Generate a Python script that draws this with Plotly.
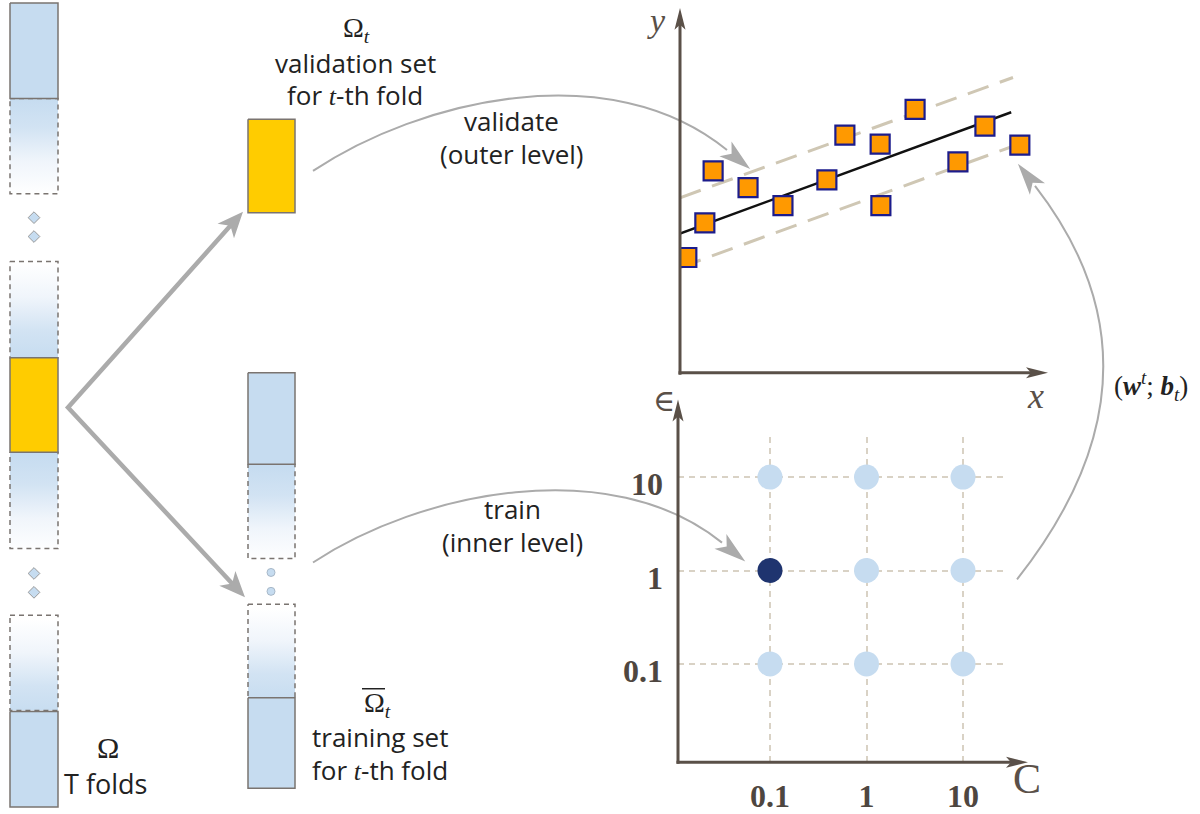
import math
import plotly.graph_objects as go

W, H = 1200, 814

# ---------------- data ----------------
# regression panel, axis units 0-10
pts_x = [0.19, 0.69, 0.92, 1.89, 2.86, 4.08, 4.58, 5.56, 5.58, 6.53, 7.72, 8.47, 9.44]
pts_y = [3.22, 4.19, 5.64, 5.17, 4.67, 5.39, 6.64, 6.39, 4.67, 7.36, 5.89, 6.89, 6.36]
fit_x = [0.0, 9.2]
fit_y = [3.89, 7.28]
tube_x = [0.0, 9.25]
tube_upper = [4.89, 8.25]
tube_lower = [2.94, 6.33]

# hyper-parameter grid (C, epsilon)
grid_C = [0.1, 1, 10, 1, 10, 0.1, 1, 10]
grid_eps = [10, 10, 10, 1, 1, 0.1, 0.1, 0.1]
best_C = [0.1]
best_eps = [1]
grid_ticks = [0.1, 1, 10]
grid_tick_text = ["0.1", "1", "10"]

# ---------------- diagram geometry (pixels) ----------------
LEFT_X = (10, 58)
MID_X = (248, 295)
solid_boxes = [  # (x-range, y0, y1, colour)
    (LEFT_X, 3, 99, "#C6DCF0"),
    (LEFT_X, 360, 455, "#FFCC00"),
    (LEFT_X, 716, 812, "#C6DCF0"),
    (MID_X, 120, 214, "#FFCC00"),
    (MID_X, 375, 467, "#C6DCF0"),
    (MID_X, 702, 793, "#C6DCF0"),
]
fade_boxes = [  # (x-range, y0, y1, blue_on_top)
    (LEFT_X, 99, 195, True),
    (LEFT_X, 263, 360, False),
    (LEFT_X, 455, 552, True),
    (LEFT_X, 619, 715, False),
    (MID_X, 467, 562, True),
    (MID_X, 608, 702, False),
]
dots_left = ([34, 34, 34, 34], [219, 238, 577, 596])
dots_mid = ([271, 271], [576, 595])

BLUE = "#C6DCF0"
ARROW = "#ABABAB"
AXIS = "#5A5048"
TXT = "#222222"

fig = go.Figure()

# fading boxes
for (xr, y0, y1, top) in fade_boxes:
    cs = [[0, BLUE], [0.3, "#D2E3F3"], [0.65, "#F0F5FB"], [1, "#FFFFFF"]]
    if not top:
        cs = [[0, "#FFFFFF"], [0.35, "#F0F5FB"], [0.7, "#D2E3F3"], [1, BLUE]]
    fig.add_trace(go.Scatter(
        x=[xr[0], xr[1], xr[1], xr[0], xr[0]], y=[y0, y0, y1, y1, y0],
        mode="lines", fill="toself",
        fillgradient=dict(type="vertical", colorscale=cs, start=y0, stop=y1),
        line=dict(color="#7A7470", width=1.5, dash="5px,4px"),
        hoverinfo="skip", xaxis="x", yaxis="y"))

for (xr, y0, y1, col) in solid_boxes:
    fig.add_trace(go.Scatter(
        x=[xr[0], xr[1], xr[1], xr[0], xr[0]], y=[y0, y0, y1, y1, y0],
        mode="lines", fill="toself", fillcolor=col,
        line=dict(color="#7A7470", width=1.5),
        hoverinfo="skip", xaxis="x", yaxis="y"))

fig.add_trace(go.Scatter(x=dots_left[0], y=dots_left[1], mode="markers",
                         marker=dict(symbol="diamond", size=9, color=BLUE,
                                     line=dict(color="#9A9A9A", width=1)),
                         hoverinfo="skip", xaxis="x", yaxis="y"))
fig.add_trace(go.Scatter(x=dots_mid[0], y=dots_mid[1], mode="markers",
                         marker=dict(symbol="circle", size=8, color=BLUE,
                                     line=dict(color="#A8B8C8", width=1)),
                         hoverinfo="skip", xaxis="x", yaxis="y"))

# ---------------- regression panel ----------------
for yy in (tube_upper, tube_lower):
    fig.add_trace(go.Scatter(x=tube_x, y=yy, mode="lines",
                             line=dict(color="#CFC7B4", width=3, dash="22px,12px"),
                             hoverinfo="skip", xaxis="x2", yaxis="y2"))
fig.add_trace(go.Scatter(x=fit_x, y=fit_y, mode="lines",
                         line=dict(color="#111111", width=2.5),
                         hoverinfo="skip", xaxis="x2", yaxis="y2"))
fig.add_trace(go.Scatter(x=pts_x, y=pts_y, mode="markers",
                         marker=dict(symbol="square", size=19, color="#FF9900",
                                     line=dict(color="#1C1C8C", width=2.2)),
                         hoverinfo="skip", xaxis="x2", yaxis="y2"))

# ---------------- grid panel ----------------
fig.add_trace(go.Scatter(x=grid_C, y=grid_eps, mode="markers",
                         marker=dict(size=25, color="#C6DCF0"),
                         hoverinfo="skip", xaxis="x3", yaxis="y3"))
fig.add_trace(go.Scatter(x=best_C, y=best_eps, mode="markers",
                         marker=dict(size=25, color="#1F346F"),
                         hoverinfo="skip", xaxis="x3", yaxis="y3"))

shapes = []
annotations = []


def unit(p, q):
    dx, dy = p[0] - q[0], p[1] - q[1]
    n = math.hypot(dx, dy)
    return dx / n, dy / n


def head(tip, u, length, half, notch, color):
    """Swept filled arrow head with its point at tip, pointing along u.
    Returns the point where the shaft should stop."""
    nx, ny = -u[1], u[0]
    bx, by = tip[0] - length * u[0], tip[1] - length * u[1]
    left = (bx + half * nx, by + half * ny)
    right = (bx - half * nx, by - half * ny)
    mid = (tip[0] - (length - notch) * u[0], tip[1] - (length - notch) * u[1])
    shapes.append(dict(type="path", xref="x", yref="y", layer="above",
                       path=(f"M {tip[0]:.1f},{tip[1]:.1f} L {left[0]:.1f},{left[1]:.1f} "
                             f"L {mid[0]:.1f},{mid[1]:.1f} L {right[0]:.1f},{right[1]:.1f} Z"),
                       fillcolor=color, line=dict(width=0)))
    return (tip[0] - (length - notch - 1) * u[0], tip[1] - (length - notch - 1) * u[1])


# split arrows
vertex = (68, 410)
tip_up = (243, 213)
tip_dn = (245, 601)
a = head(tip_up, unit(tip_up, vertex), 26, 11, 7, ARROW)
b = head(tip_dn, unit(tip_dn, vertex), 26, 11, 7, ARROW)
shapes.append(dict(type="path", xref="x", yref="y", layer="above",
                   path=f"M {a[0]:.1f},{a[1]:.1f} L {vertex[0]},{vertex[1]} L {b[0]:.1f},{b[1]:.1f}",
                   line=dict(color=ARROW, width=4.5)))

# curved arrows (cubic curves ending at the head base E)
arcs = [
    [(313, 172), (420, 100), (610, 55), (727, 151)],
    [(313, 566), (420, 495), (610, 455), (722, 546)],
]
for p0, p1, p2, e in arcs:
    u = unit(e, p2)
    tip = (e[0] + 30 * u[0], e[1] + 30 * u[1])
    head(tip, u, 32, 9.5, 8, ARROW)
    shapes.append(dict(type="path", xref="x", yref="y", layer="above",
                       path=f"M {p0[0]},{p0[1]} C {p1[0]},{p1[1]} {p2[0]},{p2[1]} {e[0]},{e[1]}",
                       line=dict(color=ARROW, width=2)))

p0, p1, e = (1017, 583), (1180, 375), (1035, 187)
u = unit(e, p1)
head((e[0] + 28 * u[0], e[1] + 28 * u[1]), u, 32, 9.5, 8, ARROW)
shapes.append(dict(type="path", xref="x", yref="y", layer="above",
                   path=f"M {p0[0]},{p0[1]} Q {p1[0]},{p1[1]} {e[0]},{e[1]}",
                   line=dict(color=ARROW, width=2)))

# axes with arrows (regression panel and grid panel)
for (tail, tip) in [((680, 377), (680, 8)), ((678.5, 375), (1048, 375)),
                    ((678, 768.5), (678, 402)), ((676.5, 767), (1028, 767))]:
    s = head(tip, unit(tip, tail), 22, 5.5, 5, AXIS)
    shapes.append(dict(type="line", xref="x", yref="y", layer="above",
                       x0=tail[0], y0=tail[1], x1=s[0], y1=s[1],
                       line=dict(color=AXIS, width=3)))


def label(x, y, text, size=26, family="Open Sans", color=TXT, **kw):
    annotations.append(dict(x=x, y=y, xref="x", yref="y", text=text,
                            showarrow=False, font=dict(size=size, family=family, color=color),
                            xanchor="center", yanchor="middle", **kw))


SERIF = "Liberation Serif"
IT = "<span style='font-family:Liberation Serif'><i>t</i></span>"
label(356, 30, "Ω<sub><i>t</i></sub>", size=28, family=SERIF)
label(355, 63, "validation set")
label(355, 96, f"for {IT}-th fold")
label(511, 122, "validate")
label(511, 155, "(outer level)")
label(512, 512, "train")
label(512, 545, "(inner level)")
label(377, 709, "Ω<sub><i>t</i></sub>", size=28, family=SERIF)
shapes.append(dict(type="line", xref="x", yref="y", x0=362, x1=385, y0=693, y1=693,
                   line=dict(color=TXT, width=1.5)))
label(380, 742, "training set")
label(380, 775, f"for {IT}-th fold")
label(108, 752, "Ω", size=30, family=SERIF)
label(105, 788, "T folds", size=27)

label(656, 21, "<i>y</i>", size=34, family=SERIF, color=AXIS)
label(1035, 398, "<i>x</i>", size=36, family=SERIF, color=AXIS)
label(664, 403, "∈", size=30, family="DejaVu Serif", color=AXIS)
label(1027, 784, "C", size=42, family=SERIF, color=AXIS)
label(1151, 388, "(<b><i>w</i></b><sup><i>t</i></sup>; <b><i>b</i></b><sub><i>t</i></sub>)",
      size=27, family=SERIF, color=TXT)


def px_dom(a, b, total):
    return [a / total, b / total]


tick_font = dict(family=SERIF, size=32, color="#4E4640", weight="bold")
fig.update_layout(
    width=W, height=H, margin=dict(l=0, r=0, t=0, b=0),
    paper_bgcolor="white", plot_bgcolor="rgba(0,0,0,0)", showlegend=False,
    shapes=shapes, annotations=annotations,
    xaxis=dict(range=[0, W], domain=[0, 1], visible=False, fixedrange=True),
    yaxis=dict(range=[H, 0], domain=[0, 1], visible=False, fixedrange=True),
    xaxis2=dict(range=[0, 10], domain=px_dom(680, 1040, W), visible=False, anchor="y2"),
    yaxis2=dict(range=[0, 10], domain=[1 - 375 / H, 1 - 15 / H], visible=False, anchor="x2"),
    xaxis3=dict(type="log", range=[-1.953, 1.435], domain=px_dom(678, 1005, W), anchor="y3",
                showgrid=True, gridcolor="#D9D2C5", griddash="6px,5px", gridwidth=1.5,
                zeroline=False, showline=False, ticks="",
                tickvals=grid_ticks, ticktext=grid_tick_text, ticklabelstandoff=12,
                tickfont=tick_font),
    yaxis3=dict(type="log", range=[-2.053, 1.426], domain=[1 - 767 / H, 1 - 440 / H], anchor="x3",
                showgrid=True, gridcolor="#D9D2C5", griddash="6px,5px", gridwidth=1.5,
                zeroline=False, showline=False, ticks="",
                tickvals=grid_ticks, ticktext=grid_tick_text, ticklabelstandoff=14,
                ticklabelshift=7, tickfont=tick_font),
)

fig.write_html("out.html", config={"displayModeBar": False},
               post_script="document.body.style.margin='0px';")
